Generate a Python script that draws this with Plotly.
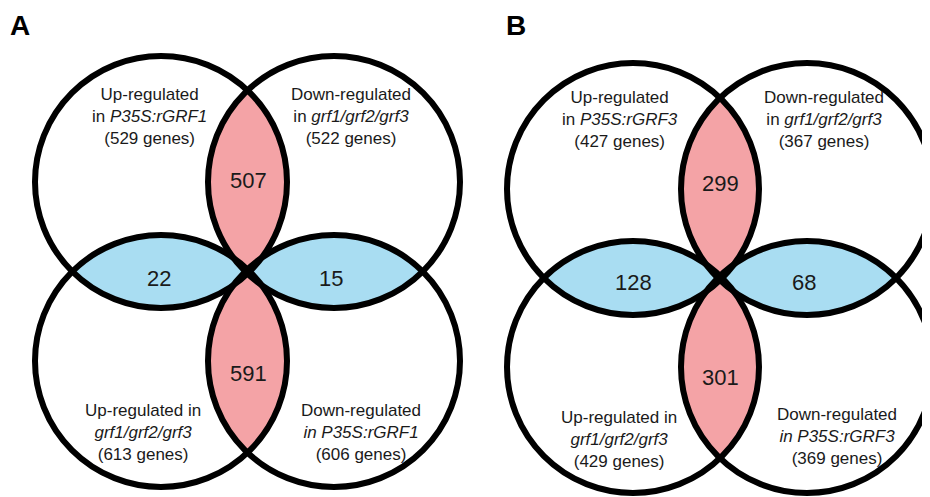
import numpy as np
import plotly.graph_objects as go

# ---- data ----
panel_letters = ["A", "B"]
# region labels per panel: TL, TR, BL, BR
set_labels_A = [
    ["Up-regulated", "in <i>P35S:rGRF1</i>", "(529 genes)"],
    ["Down-regulated", "in <i>grf1/grf2/grf3</i>", "(522 genes)"],
    ["Up-regulated in", "<i>grf1/grf2/grf3</i>", "(613 genes)"],
    ["Down-regulated", "<i>in P35S:rGRF1</i>", "(606 genes)"],
]
set_labels_B = [
    ["Up-regulated", "in <i>P35S:rGRF3</i>", "(427 genes)"],
    ["Down-regulated", "in <i>grf1/grf2/grf3</i>", "(367 genes)"],
    ["Up-regulated in", "<i>grf1/grf2/grf3</i>", "(429 genes)"],
    ["Down-regulated", "<i>in P35S:rGRF3</i>", "(369 genes)"],
]
# overlaps: top (TL∩TR), left (TL∩BL), right (TR∩BR), bottom (BL∩BR)
overlap_A = [507, 22, 15, 591]
overlap_B = [299, 128, 68, 301]

# ---- geometry (layout only, in page pixels) ----
R = 126
panels = [
    dict(cx=[161, 334, 161, 334], cy=[182, 182, 361, 361], letter=(9, 9),
         labels=set_labels_A, overlaps=overlap_A,
         lab_pos=[(149, 116), (351, 116), (143, 432), (361, 432)],
         ov_pos=[(248, 180), (159, 278), (331, 278), (248, 373)]),
    dict(cx=[633, 807, 633, 807], cy=[189, 189, 367, 367], letter=(505, 9),
         labels=set_labels_B, overlaps=overlap_B,
         lab_pos=[(620, 119), (824, 119), (619, 439), (837, 436)],
         ov_pos=[(720, 183), (633, 282), (804, 282), (720, 377)]),
]

PINK = "#F4A3A6"
BLUE = "#A9DDF2"
TXT = "#1a1a1a"
FONT = "Liberation Sans, Arial, sans-serif"
OFF = 8  # default page body margin


def lens(c1, c2, n=400):
    t = np.linspace(0, 2 * np.pi, n)
    pts = []
    for (ax, ay), (bx, by) in ((c1, c2), (c2, c1)):
        x = ax + R * np.cos(t)
        y = ay + R * np.sin(t)
        m = (x - bx) ** 2 + (y - by) ** 2 <= R ** 2
        pts.append(np.c_[x[m], y[m]])
    p = np.vstack(pts)
    mx, my = (c1[0] + c2[0]) / 2, (c1[1] + c2[1]) / 2
    ang = np.arctan2(p[:, 1] - my, p[:, 0] - mx)
    p = p[np.argsort(ang)]
    return np.r_[p[:, 0], p[0, 0]], np.r_[p[:, 1], p[0, 1]]


fig = go.Figure()
shapes = []
annotations = []
pairs = [(0, 1, PINK), (0, 2, BLUE), (1, 3, BLUE), (2, 3, PINK)]
for P in panels:
    centers = list(zip(P["cx"], P["cy"]))
    for (i, j, col) in pairs:
        lx, ly = lens(centers[i], centers[j])
        fig.add_trace(go.Scatter(x=lx, y=ly, mode="lines", fill="toself",
                                 fillcolor=col, line=dict(width=0, color=col),
                                 hoverinfo="skip", showlegend=False))
    for (x0, y0) in centers:
        shapes.append(dict(type="circle", xref="x", yref="y",
                           x0=x0 - R, x1=x0 + R, y0=y0 - R, y1=y0 + R,
                           line=dict(color="black", width=6), fillcolor="rgba(0,0,0,0)"))
    for lab, (x, y) in zip(P["labels"], P["lab_pos"]):
        annotations.append(dict(x=x, y=y, xref="x", yref="y", text="<br>".join(lab),
                                showarrow=False, align="center",
                                font=dict(size=17, color=TXT, family=FONT)))
    for v, (x, y) in zip(P["overlaps"], P["ov_pos"]):
        annotations.append(dict(x=x, y=y, xref="x", yref="y", text=str(v),
                                showarrow=False, font=dict(size=22, color=TXT, family=FONT)))

for P, letter in zip(panels, panel_letters):
    lx, ly = P["letter"]
    annotations.append(dict(x=lx, y=ly, xref="x", yref="y", text="<b>%s</b>" % letter,
                            showarrow=False, xanchor="left", yanchor="top",
                            borderpad=0,
                            font=dict(size=28, color="black", family=FONT)))

fig.update_layout(
    width=930, height=497, margin=dict(l=0, r=0, t=0, b=0),
    paper_bgcolor="white", plot_bgcolor="white",
    xaxis=dict(range=[OFF, 930 + OFF], visible=False, fixedrange=True),
    yaxis=dict(range=[497 + OFF, OFF], visible=False, fixedrange=True),
    shapes=shapes, annotations=annotations, showlegend=False,
)
fig.write_html("out.html")
